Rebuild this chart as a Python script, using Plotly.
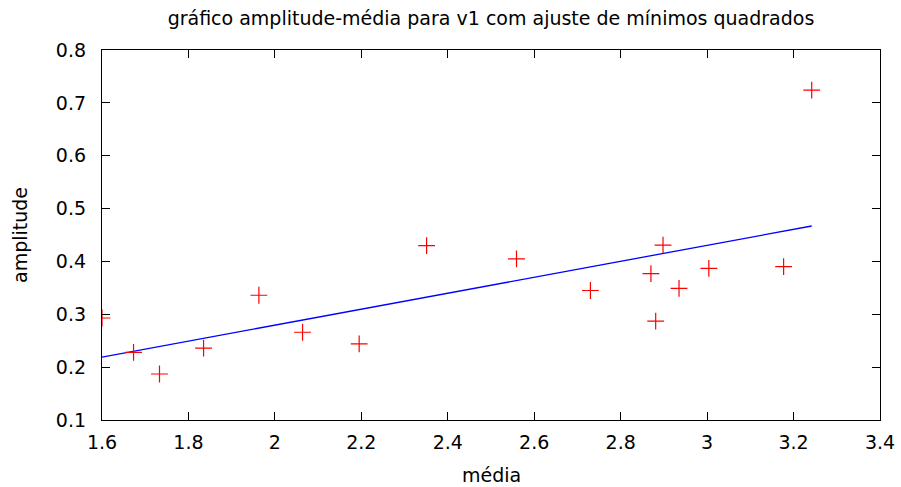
import plotly.graph_objects as go

# measured points: média (x) and amplitude (y)
media = [1.600, 1.673, 1.733, 1.835, 1.963, 2.064, 2.195, 2.351, 2.559,
         2.730, 2.870, 2.881, 2.898, 2.935, 3.004, 3.177, 3.242]
amplitude = [0.293, 0.228, 0.187, 0.236, 0.336, 0.266, 0.244, 0.430, 0.405,
             0.345, 0.377, 0.287, 0.431, 0.349, 0.387, 0.390, 0.724]

# least-squares fit line endpoints
fit_x = [1.600, 3.242]
fit_y = [0.219, 0.467]

x_ticks = [1.6, 1.8, 2.0, 2.2, 2.4, 2.6, 2.8, 3.0, 3.2, 3.4]
x_tick_text = ["1.6", "1.8", "2", "2.2", "2.4", "2.6", "2.8", "3", "3.2", "3.4"]
y_ticks = [0.1, 0.2, 0.3, 0.4, 0.5, 0.6, 0.7, 0.8]
y_tick_text = ["0.1", "0.2", "0.3", "0.4", "0.5", "0.6", "0.7", "0.8"]

FONT = "DejaVu Sans"
FS = 19
W, H = 901, 487
ML, MR, MT, MB = 102, 21, 50, 67

fig = go.Figure()
fig.add_trace(go.Scatter(
    x=fit_x, y=fit_y, mode="lines",
    line=dict(color="#0000ff", width=1.3),
    showlegend=False, hoverinfo="skip",
))
fig.add_trace(go.Scatter(
    x=media, y=amplitude, mode="markers",
    marker=dict(symbol="cross-thin", size=12,
                line=dict(color="#ff0000", width=1.2)),
    showlegend=False,
))

axis_common = dict(
    showgrid=False, zeroline=False, automargin=False,
    showline=True, linecolor="black", linewidth=1.3,
    mirror="ticks", ticks="inside", ticklen=8, tickwidth=1.2,
    tickcolor="black",
    tickfont=dict(family=FONT, size=FS, color="black"),
)

fig.update_layout(
    width=W, height=H,
    margin=dict(l=ML, r=MR, t=MT, b=MB),
    paper_bgcolor="white", plot_bgcolor="white",
    font=dict(family=FONT, color="black"),
    title=dict(
        text="gráfico amplitude-média para v1 com ajuste de mínimos quadrados",
        x=0.5, xref="paper", xanchor="center",
        y=1 - 18 / H, yanchor="middle",
        font=dict(family=FONT, size=FS, color="black"),
    ),
    xaxis=dict(
        range=[1.6, 3.4], tickvals=x_ticks, ticktext=x_tick_text,
        ticklabelstandoff=5,
        **axis_common,
    ),
    yaxis=dict(
        range=[0.1, 0.8], tickvals=y_ticks, ticktext=y_tick_text,
        ticklabelstandoff=11,
        **axis_common,
    ),
    annotations=[
        dict(text="média", xref="paper", yref="paper",
             x=0.5, y=-(475 - (H - MB)) / (H - MT - MB),
             xanchor="center", yanchor="middle", showarrow=False,
             font=dict(family=FONT, size=FS, color="black")),
        dict(text="amplitude", xref="paper", yref="paper",
             x=-(ML - 20) / (W - ML - MR), y=0.5, textangle=-90,
             xanchor="center", yanchor="middle", showarrow=False,
             font=dict(family=FONT, size=FS, color="black")),
    ],
)

fig.write_html("out.html")
